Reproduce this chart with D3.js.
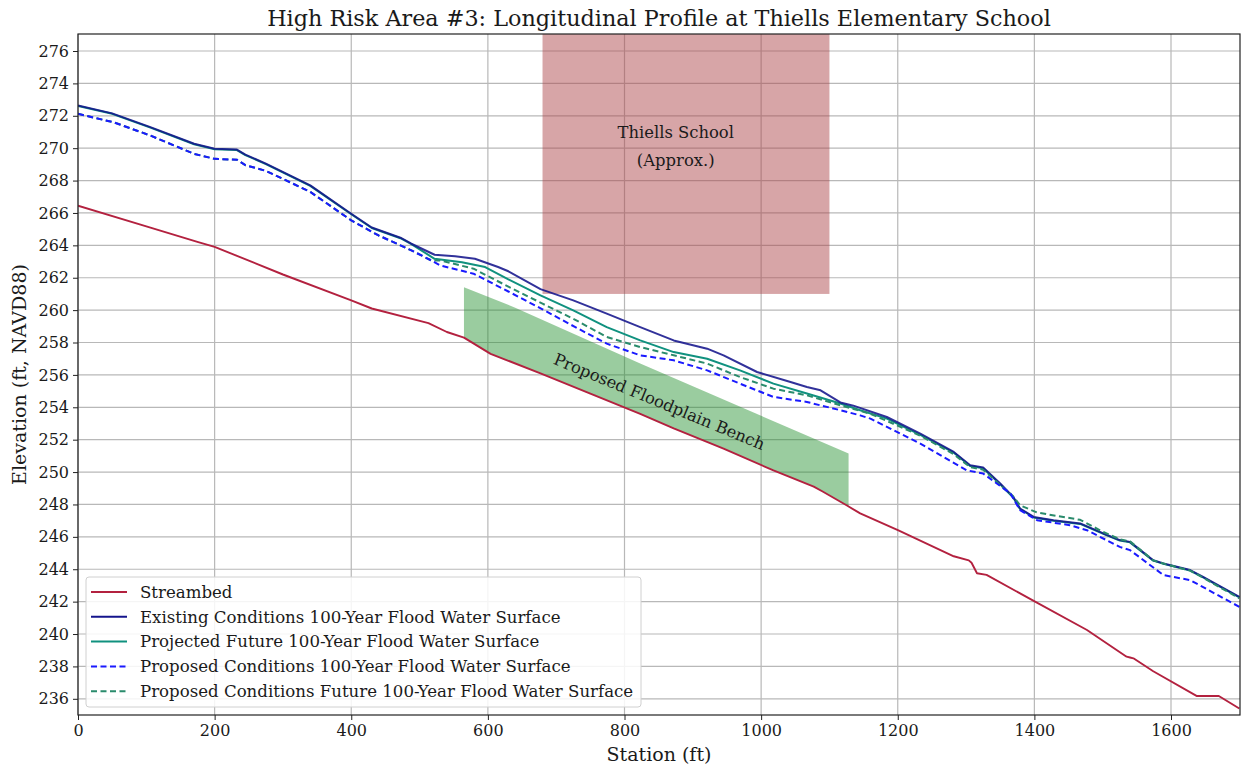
<!DOCTYPE html>
<html>
<head>
<meta charset="utf-8">
<script src="https://cdn.jsdelivr.net/npm/d3@7"></script>
<style>
  body { margin: 0; background: #fff; }
  text { font-family: "DejaVu Serif", serif; fill: #1a1a1a; }
</style>
</head>
<body>
<svg id="chart"></svg>
<script>
// Data
var streamSta = [0, 100, 176, 200, 230, 300, 400, 430, 513, 540, 565, 604, 677, 750, 823, 872, 945, 1018, 1077, 1090, 1125, 1145, 1201, 1282, 1304, 1308, 1316, 1330, 1401, 1477, 1535, 1540, 1545, 1574, 1638, 1670, 1700];
var streamElev = [266.45, 265.17, 264.2, 263.9, 263.4, 262.2, 260.6, 260.1, 259.2, 258.65, 258.3, 257.3, 256.1, 254.85, 253.6, 252.7, 251.45, 250.1, 249.1, 248.8, 247.95, 247.45, 246.4, 244.8, 244.55, 244.4, 243.75, 243.65, 242.0, 240.25, 238.6, 238.55, 238.5, 237.7, 236.17, 236.17, 235.4];

var existSta = [0, 50, 106, 170, 200, 232, 245, 275, 340, 400, 430, 472, 488, 522, 552, 581, 615, 630, 677, 725, 774, 823, 872, 921, 945, 994, 1043, 1067, 1087, 1116, 1135, 1184, 1233, 1282, 1306, 1325, 1350, 1369, 1379, 1399, 1428, 1467, 1501, 1525, 1540, 1574, 1589, 1628, 1647, 1700];
var existElev = [272.63, 272.15, 271.3, 270.27, 269.96, 269.92, 269.6, 269.05, 267.7, 265.95, 265.1, 264.47, 264.1, 263.42, 263.32, 263.17, 262.66, 262.4, 261.3, 260.6, 259.78, 258.95, 258.13, 257.62, 257.21, 256.18, 255.56, 255.25, 255.05, 254.3, 254.1, 253.4, 252.38, 251.24, 250.42, 250.28, 249.29, 248.47, 247.75, 247.23, 247.03, 246.83, 246.21, 245.8, 245.69, 244.56, 244.36, 243.95, 243.53, 242.3];

var futureSta = [0, 50, 106, 170, 200, 232, 245, 275, 340, 400, 430, 472, 488, 522, 562, 596, 630, 677, 725, 774, 823, 872, 921, 969, 1018, 1067, 1116, 1145, 1184, 1233, 1282, 1306, 1325, 1350, 1369, 1379, 1399, 1428, 1467, 1501, 1525, 1540, 1574, 1589, 1628, 1647, 1700];
var futureElev = [272.6, 272.12, 271.27, 270.24, 269.93, 269.89, 269.57, 269.02, 267.67, 265.92, 265.07, 264.44, 264.07, 263.17, 262.96, 262.66, 261.9, 260.91, 259.98, 258.95, 258.13, 257.41, 257.0, 256.28, 255.46, 254.85, 254.23, 253.82, 253.3, 252.3, 251.2, 250.38, 250.24, 249.25, 248.43, 247.72, 247.2, 247.0, 246.8, 246.18, 245.77, 245.66, 244.53, 244.33, 243.92, 243.5, 242.27];

var propSta = [0, 52, 106, 170, 200, 233, 245, 275, 340, 400, 440, 472, 488, 517, 530, 579, 630, 680, 728, 774, 823, 872, 921, 969, 1018, 1067, 1087, 1116, 1145, 1160, 1233, 1301, 1325, 1365, 1379, 1404, 1452, 1477, 1525, 1540, 1589, 1628, 1700];
var propElev = [272.12, 271.6, 270.78, 269.65, 269.34, 269.28, 268.95, 268.6, 267.3, 265.54, 264.61, 264.0, 263.69, 263.07, 262.76, 262.25, 261.15, 260.05, 258.95, 257.93, 257.21, 256.9, 256.28, 255.46, 254.64, 254.33, 254.12, 253.82, 253.5, 253.3, 251.76, 250.11, 249.91, 248.68, 247.65, 247.03, 246.72, 246.41, 245.38, 245.18, 243.64, 243.33, 241.68];

var propFutSta = [0, 52, 106, 170, 200, 233, 245, 275, 340, 400, 440, 472, 488, 517, 530, 579, 630, 680, 728, 774, 823, 872, 921, 969, 1018, 1067, 1116, 1160, 1233, 1282, 1306, 1325, 1350, 1369, 1379, 1404, 1467, 1501, 1525, 1540, 1574, 1589, 1628, 1647, 1700];
var propFutElev = [272.12, 271.6, 270.78, 269.65, 269.34, 269.28, 268.95, 268.6, 267.3, 265.54, 264.61, 264.0, 263.69, 263.07, 263.07, 262.56, 261.45, 260.4, 259.4, 258.34, 257.72, 257.21, 256.7, 255.87, 255.15, 254.74, 254.12, 253.6, 252.25, 251.1, 250.3, 250.15, 249.2, 248.5, 247.95, 247.5, 247.05, 246.3, 245.85, 245.72, 244.55, 244.35, 243.92, 243.48, 242.2];

var seriesNames = ["Streambed", "Existing Conditions 100-Year Flood Water Surface", "Projected Future 100-Year Flood Water Surface", "Proposed Conditions 100-Year Flood Water Surface", "Proposed Conditions Future 100-Year Flood Water Surface"];
var seriesColors = ["#b3213f", "#14148c", "#10917f", "#1a1aff", "#2a8b6c"];

var xTicks = [0, 200, 400, 600, 800, 1000, 1200, 1400, 1600];
var yTicks = d3.range(236, 277, 2);

// school box
var schoolSta = [680, 1100];
var schoolElev = [261.0, 278];
// bench: top edge, bottom follows the streambed
var benchTopSta = [565, 640, 823, 1128];
var benchTopElev = [261.42, 260.15, 256.71, 251.14];

var width = 1241, height = 767;
var margin = {top: 34, right: 1, bottom: 52, left: 78};

var svg = d3.select("#chart").attr("width", width).attr("height", height);

var x = d3.scaleLinear().domain([0, 1701]).range([margin.left, width - margin.right]);
var y = d3.scaleLinear().domain([235.0, 277.05]).range([height - margin.bottom, margin.top]);

svg.append("defs").append("clipPath").attr("id", "clip")
    .append("rect")
    .attr("x", margin.left).attr("y", margin.top)
    .attr("width", width - margin.left - margin.right)
    .attr("height", height - margin.top - margin.bottom);

// grid
var grid = svg.append("g");
grid.selectAll(".vg").data(xTicks).enter().append("line")
    .attr("x1", d => x(d)).attr("x2", d => x(d))
    .attr("y1", margin.top).attr("y2", height - margin.bottom)
    .attr("stroke", "#b8b8b8").attr("stroke-width", 1.2);
grid.selectAll(".hg").data(yTicks).enter().append("line")
    .attr("x1", margin.left).attr("x2", width - margin.right)
    .attr("y1", d => y(d)).attr("y2", d => y(d))
    .attr("stroke", "#b8b8b8").attr("stroke-width", 1.2);

var plot = svg.append("g").attr("clip-path", "url(#clip)");

// Thiells School box
plot.append("rect")
    .attr("x", x(schoolSta[0]))
    .attr("y", y(schoolElev[1]))
    .attr("width", x(schoolSta[1]) - x(schoolSta[0]))
    .attr("height", y(schoolElev[0]) - y(schoolElev[1]))
    .attr("fill", "rgb(172,66,72)")
    .attr("fill-opacity", 0.48);

// bench polygon
var bedAt = function(s) {
    var i = d3.bisectLeft(streamSta, s);
    if (streamSta[i] === s) return streamElev[i];
    var t = (s - streamSta[i - 1]) / (streamSta[i] - streamSta[i - 1]);
    return streamElev[i - 1] + t * (streamElev[i] - streamElev[i - 1]);
};
var s0 = benchTopSta[0], s1 = benchTopSta[benchTopSta.length - 1];
var benchPts = benchTopSta.map((s, i) => [s, benchTopElev[i]]);
var bottom = [[s1, bedAt(s1)]];
for (var k = streamSta.length - 1; k >= 0; k--) {
    if (streamSta[k] > s0 && streamSta[k] < s1) bottom.push([streamSta[k], streamElev[k]]);
}
bottom.push([s0, bedAt(s0)]);
benchPts = benchPts.concat(bottom);

plot.append("path")
    .attr("d", d3.line().x(d => x(d[0])).y(d => y(d[1]))(benchPts) + "Z")
    .attr("fill", "#1f8f2a")
    .attr("fill-opacity", 0.45);

// lines
var line = d3.line().x(d => x(d[0])).y(d => y(d[1]));
var zip = (a, b) => a.map((s, i) => [s, b[i]]);

var series = [
    {pts: zip(streamSta, streamElev), color: seriesColors[0], dash: null, w: 1.9},
    {pts: zip(futureSta, futureElev), color: seriesColors[2], dash: null, w: 2},
    {pts: zip(existSta, existElev), color: seriesColors[1], dash: null, w: 2, op: 0.88},
    {pts: zip(propFutSta, propFutElev), color: seriesColors[4], dash: "6,3.5", w: 2},
    {pts: zip(propSta, propElev), color: seriesColors[3], dash: "6,3.5", w: 2}
];
series.forEach(function(s) {
    plot.append("path")
        .attr("d", line(s.pts))
        .attr("fill", "none")
        .attr("stroke", s.color)
        .attr("stroke-width", s.w)
        .attr("stroke-opacity", s.op || 1)
        .attr("stroke-dasharray", s.dash)
        .attr("stroke-linejoin", "round");
});

// annotations
plot.append("text")
    .attr("x", x(875)).attr("y", y(270.6))
    .attr("text-anchor", "middle")
    .style("font-size", "16.4px")
    .text("Thiells School");
plot.append("text")
    .attr("x", x(875)).attr("y", y(268.93))
    .attr("text-anchor", "middle")
    .style("font-size", "16.4px")
    .text("(Approx.)");
plot.append("text")
    .attr("transform", "translate(" + x(851) + "," + y(254.35) + ") rotate(22.5)")
    .attr("text-anchor", "middle")
    .attr("dy", "0.35em")
    .style("font-size", "16.3px")
    .text("Proposed Floodplain Bench");

// axes
var xAxis = d3.axisBottom(x).tickValues(xTicks).tickSize(5).tickPadding(5).tickFormat(d3.format("d"));
var yAxis = d3.axisLeft(y).tickValues(yTicks).tickSize(5).tickPadding(4).tickFormat(d3.format("d"));

var gx = svg.append("g").attr("transform", "translate(0," + (height - margin.bottom) + ")").call(xAxis);
var gy = svg.append("g").attr("transform", "translate(" + margin.left + ",0)").call(yAxis);
[gx, gy].forEach(function(g) {
    g.select(".domain").remove();
    g.selectAll("text").style("font-size", "16px").style("font-family", "DejaVu Serif").attr("fill", "#1a1a1a");
    g.selectAll("line").attr("stroke", "#222");
});

// frame
svg.append("rect")
    .attr("x", margin.left).attr("y", margin.top)
    .attr("width", width - margin.left - margin.right)
    .attr("height", height - margin.top - margin.bottom)
    .attr("fill", "none").attr("stroke", "#222").attr("stroke-width", 1.2);

// title and axis labels
svg.append("text")
    .attr("x", (margin.left + width - margin.right) / 2).attr("y", 26)
    .attr("text-anchor", "middle")
    .style("font-size", "22.3px")
    .text("High Risk Area #3: Longitudinal Profile at Thiells Elementary School");
svg.append("text")
    .attr("x", (margin.left + width - margin.right) / 2).attr("y", 761)
    .attr("text-anchor", "middle")
    .style("font-size", "19px")
    .text("Station (ft)");
svg.append("text")
    .attr("transform", "translate(26," + ((margin.top + height - margin.bottom) / 2) + ") rotate(-90)")
    .attr("text-anchor", "middle")
    .style("font-size", "19px")
    .text("Elevation (ft, NAVD88)");

// legend
var legend = svg.append("g");
legend.append("rect")
    .attr("x", 86).attr("y", 577).attr("width", 555).attr("height", 130)
    .attr("rx", 3)
    .attr("fill", "#fff").attr("fill-opacity", 0.85)
    .attr("stroke", "#d0d0d0");
var legendDash = [null, null, null, "6,3.5", "6,3.5"];
seriesNames.forEach(function(name, i) {
    var ly = 592 + i * 24.8;
    legend.append("line")
        .attr("x1", 91).attr("x2", 127).attr("y1", ly).attr("y2", ly)
        .attr("stroke", seriesColors[i]).attr("stroke-width", 2)
        .attr("stroke-dasharray", legendDash[i]);
    legend.append("text")
        .attr("x", 140).attr("y", ly).attr("dy", "0.35em")
        .style("font-size", "16.6px")
        .text(name);
});
</script>
</body>
</html>
